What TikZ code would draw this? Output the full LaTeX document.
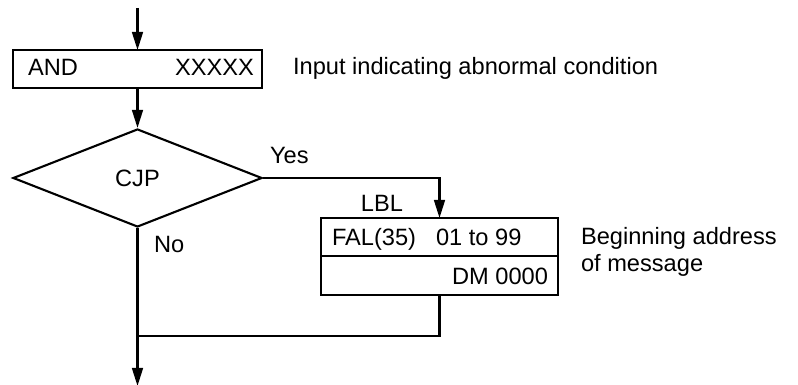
\documentclass[tikz,border=0pt]{standalone}
\usepackage{fontspec}
\setmainfont{Liberation Sans}
\usetikzlibrary{arrows.meta,shapes.geometric,positioning}

\begin{document}
\begin{tikzpicture}[x=0.025cm,y=-0.025cm,line width=1.5pt,>={Triangle[length=4.5mm,width=2.7mm]},
  font=\fontsize{16.8}{20}\selectfont,
  blk/.style={draw,rectangle,inner sep=0pt,outer sep=0pt},
  txt/.style={inner sep=0pt}]
  \useasboundingbox (0,0) rectangle (798,385);
  % instruction blocks
  \node[blk,minimum width=6.225cm,minimum height=0.95cm] (and) at (137.5,69) {};
  \node[draw,diamond,inner sep=0pt,minimum width=6.225cm,minimum height=2.45cm] (cjp) at (137.5,178) {CJP};
  \node[blk,minimum width=5.925cm,minimum height=0.95cm] (fal) at (439.5,237) {};
  \node[blk,minimum width=5.925cm,minimum height=0.975cm,below=0pt of fal] (dm) {};
  \coordinate (in) at (137.5,8);
  \coordinate (join) at (137.5,336);
  \coordinate (out) at (137.5,386);
  % texts
  \node[txt,anchor=base west] (andop) at (27,76) {AND};
  \node[txt,anchor=base east] (andarg) at (255,76) {XXXXX};
  \node[txt,anchor=base west] (inputnote) at (292,75) {Input indicating abnormal condition};
  \node[txt,anchor=base west] (yes) at (269,164) {Yes};
  \node[txt,anchor=base west] (no) at (153,253) {No};
  \node[txt,anchor=base] (lbl) at (382,212) {LBL};
  \node[txt,anchor=base west] (falop) at (331,246) {FAL(35)\hspace{0.5cm}01 to 99};
  \node[txt,anchor=base east] (dmarg) at (549,285) {DM 0000};
  \node[txt,anchor=base west] (addra) at (580,245) {Beginning address};
  \node[txt,anchor=base west] (addrb) at (580,272) {of message};
  % flow lines
  \draw[->] (in) -- (and);
  \draw[->] (and) -- (cjp);
  \draw[->] (cjp.east) -| (fal.north);
  \draw (dm.south) |- (join);
  \draw[->] (cjp.south) -- (out);
\end{tikzpicture}
\end{document}
